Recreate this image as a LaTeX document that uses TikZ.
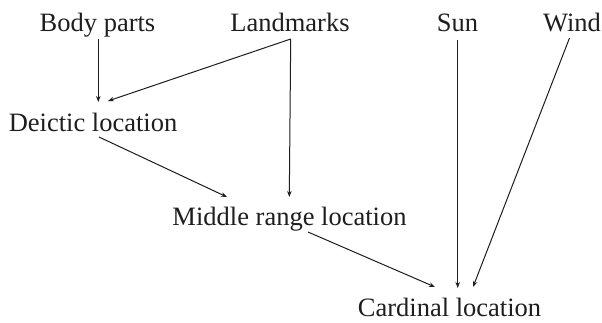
\documentclass[tikz,border=0pt]{standalone}
\usepackage{fontspec}
\setmainfont{Liberation Serif}
\usetikzlibrary{arrows.meta}
\definecolor{ink}{HTML}{1E1E1E}
\begin{document}
\begin{tikzpicture}[x=1pt,y=-1pt,
  lbl/.style={anchor=base,inner sep=0pt,font=\fontsize{26.5}{30}\selectfont,text=ink},
  conn/.style={draw=ink,line width=1pt,-{Stealth[length=6pt,width=4.5pt]}}]
\useasboundingbox[fill=white] (0,0) rectangle (602,322);
\node[lbl] (bp) at (97.5,31) {Body parts};
\node[lbl] (lm) at (290,31) {Landmarks};
\node[lbl] (sun) at (457.5,31) {Sun};
\node[lbl] (wind) at (572,31) {Wind};
\node[lbl] (dl) at (93,131) {Deictic location};
\node[lbl] (mr) at (289.5,225) {Middle range location};
\node[lbl] (cl) at (449.5,316.5) {Cardinal location};
\draw[conn] ([shift={(0.8,8)}]bp.base) -- ([shift={(5.3,-29)}]dl.base);
\draw[conn] ([shift={(0.7,8)}]lm.base) -- ([shift={(15,-30)}]dl.base);
\draw[conn] ([shift={(0.7,8)}]lm.base) -- ([shift={(-0.2,-28)}]mr.base);
\draw[conn] ([shift={(6,6)}]dl.base) -- ([shift={(-62.5,-28)}]mr.base);
\draw[conn] ([shift={(0.2,9)}]sun.base) -- ([shift={(8.2,-28.5)}]cl.base);
\draw[conn] ([shift={(-2.5,7)}]wind.base) -- ([shift={(23.5,-29.5)}]cl.base);
\draw[conn] ([shift={(18.5,7)}]mr.base) -- ([shift={(-14.5,-29.5)}]cl.base);
\end{tikzpicture}
\end{document}
